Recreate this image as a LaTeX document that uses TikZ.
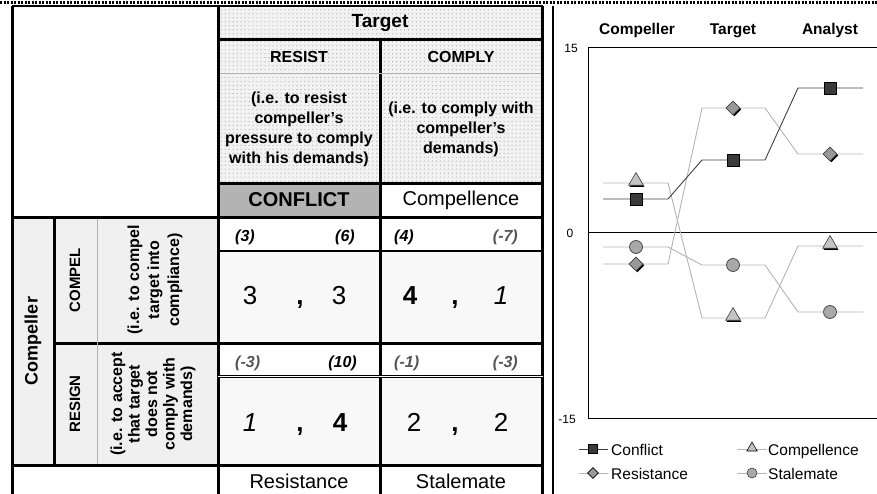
\documentclass[tikz,border=0pt]{standalone}
\usepackage{fontspec}
\setmainfont{Liberation Sans}
\usetikzlibrary{patterns,shapes.geometric,shadows}

\definecolor{hdrgray}{HTML}{F2F2F2}
\definecolor{dotgray}{HTML}{B4B4B4}
\definecolor{sidegray}{HTML}{F0F0F0}
\definecolor{cellgray}{HTML}{F8F8F8}
\definecolor{conflictfill}{HTML}{B3B3B3}
\definecolor{negtext}{HTML}{555555}
\definecolor{darkline}{HTML}{404040}
\definecolor{lightline}{HTML}{B4B4B4}
\definecolor{rulegray}{HTML}{B0B0B0}
\definecolor{sqfill}{HTML}{3A3A3A}
\definecolor{dmfill}{HTML}{999999}
\definecolor{trfill}{HTML}{C4C4C4}
\definecolor{cifill}{HTML}{A8A8A8}

\newcommand{\fsz}[2]{\fontsize{#1bp}{#2bp}\selectfont}

% fine dot texture for the header cells
\pgfdeclarepatternformonly{cellDots}{\pgfqpoint{-1pt}{-1pt}}{\pgfqpoint{5pt}{5pt}}{\pgfqpoint{4pt}{4pt}}{%
  \pgfpathcircle{\pgfqpoint{2pt}{2pt}}{0.65pt}\pgfusepath{fill}}

\begin{document}
\begin{tikzpicture}[x=1bp,y=-1bp,
  thickrule/.style={line width=3bp},
  midrule/.style={line width=2bp},
  thinrule/.style={line width=0.8bp, rulegray},
  dotcell/.style={preaction={fill=hdrgray}, pattern=cellDots, pattern color=dotgray},
  hdr/.style={font=\bfseries\fsz{16}{18}, inner sep=0},
  desc/.style={font=\bfseries\fsz{16}{20}, align=center, inner sep=0},
  payoff/.style={font=\bfseries\itshape\fsz{16}{18}, inner sep=0},
  big/.style={font=\fsz{26}{28}, inner sep=0, anchor=base},
  outcome/.style={font=\fsz{20}{22}, inner sep=0},
  ctitle/.style={font=\bfseries\fsz{15.5}{17}, inner sep=0, anchor=base},
  ticklab/.style={font=\fsz{12}{13}, inner sep=0},
  legtext/.style={font=\fsz{15.5}{17}, inner sep=0, anchor=base west},
  sqmark/.style={rectangle, draw=black, fill=sqfill, minimum size=12bp, inner sep=0, line width=0.7bp},
  dmmark/.style={diamond, draw=darkline, fill=dmfill, minimum size=14bp, inner sep=0, line width=0.6bp,
    drop shadow={shadow xshift=1.4bp, shadow yshift=-1.4bp, fill=black, opacity=1}},
  trmark/.style={regular polygon, regular polygon sides=3, draw=darkline, fill=trfill, minimum size=17bp, inner sep=0, line width=0.6bp,
    drop shadow={shadow xshift=1bp, shadow yshift=-1.6bp, fill=black, opacity=1}},
  cimark/.style={circle, draw=darkline, fill=cifill, minimum size=13bp, inner sep=0, line width=0.7bp},
  lsq/.style={rectangle, draw=black, fill=sqfill, minimum size=9bp, inner sep=0, line width=0.6bp},
  ldm/.style={diamond, draw=black, fill=dmfill, minimum size=11bp, inner sep=0, line width=0.6bp},
  ltr/.style={regular polygon, regular polygon sides=3, draw=black, fill=trfill, minimum size=12bp, inner sep=0, line width=0.6bp},
  lci/.style={circle, draw=darkline, fill=cifill, minimum size=10bp, inner sep=0, line width=0.6bp},
  darkser/.style={darkline, line width=0.9bp},
  lightser/.style={lightline, line width=0.9bp}]
\useasboundingbox (0,0) rectangle (877,494);

% ---------- cell backgrounds ----------
\fill[dotcell] (218,6) rectangle (543,184);
\fill[conflictfill] (218,184) rectangle (380,217);
\fill[sidegray] (12,217) rectangle (218,465);
\fill[cellgray] (218,252) rectangle (543,343);
\fill[cellgray] (218,378) rectangle (543,465);

% ---------- table rules ----------
\draw[midrule] (12,6.5) -- (543,6.5);
\draw[thickrule] (12,6) -- (12,494);
\draw[thickrule] (218.5,6) -- (218.5,494);
\draw[thickrule] (542,6) -- (542,494);
\draw[thickrule] (380,40) -- (380,494);
\draw[thickrule] (218,40) -- (543,40);
\draw[thinrule] (220,73) -- (541,73);
\draw[thickrule] (218,184) -- (543,184);
\draw[thickrule] (11,217.5) -- (543,217.5);
\draw[midrule] (218,251.5) -- (543,251.5);
\draw[thickrule] (54,343.5) -- (543,343.5);
\draw[thickrule] (54,217) -- (54,465);
\draw[thinrule] (97,219) -- (97,464);
\draw[line width=0.9bp, double=white, double distance=1.6bp] (218,376.5) -- (543,376.5);
\draw[thickrule] (11,465.5) -- (543,465.5);

% ---------- column headings ----------
\node[font=\bfseries\fsz{19}{21}, inner sep=0] (target) at (380,23) {Target};
\node[hdr] (resist) at (299,57) {RESIST};
\node[hdr] (comply) at (461,57) {COMPLY};
\node[desc] (resistdesc) at (299,129) {(i.e. to resist\\compeller's\\pressure to comply\\with his demands)};
\node[desc] (complydesc) at (461,129) {(i.e. to comply with\\compeller's\\demands)};
\node[font=\bfseries\fsz{20}{22}, inner sep=0] (conflict) at (299,200) {CONFLICT};
\node[outcome] (compellence) at (461,200) {Compellence};

% ---------- row headings ----------
\node[rotate=90, font=\bfseries\fsz{18}{20}, inner sep=0] (compeller) at (33,341) {Compeller};
\node[rotate=90, hdr, font=\bfseries\fsz{15}{17}] (compel) at (75,280) {COMPEL};
\node[rotate=90, hdr, font=\bfseries\fsz{15}{17}] (resign) at (75,404) {RESIGN};
\node[rotate=90, desc] (compeldesc) at (155,280) {(i.e. to compel\\target into\\compliance)};
\node[rotate=90, desc, font=\bfseries\fsz{16}{17.5}] (resigndesc) at (153,404) {(i.e. to accept\\that target\\does not\\comply with\\demands)};

% ---------- payoffs in brackets ----------
\node[payoff, anchor=west] (p11) at (235,237) {(3)};
\node[payoff, anchor=east] (p12) at (355,237) {(6)};
\node[payoff, anchor=west] (p13) at (394,237) {(4)};
\node[payoff, anchor=east, negtext] (p14) at (518,237) {(-7)};
\node[payoff, anchor=west, negtext] (p21) at (235,363) {(-3)};
\node[payoff, anchor=east] (p22) at (357,363) {(10)};
\node[payoff, anchor=west, negtext] (p23) at (394,363) {(-1)};
\node[payoff, anchor=east, negtext] (p24) at (518,363) {(-3)};

% ---------- ordinal payoffs ----------
\node[big] (r11) at (250,305) {3};
\node[big, font=\bfseries\fsz{26}{28}] (c11) at (300,305) {,};
\node[big] (r12) at (339,305) {3};
\node[big, font=\bfseries\fsz{26}{28}] (r13) at (410,305) {4};
\node[big, font=\bfseries\fsz{26}{28}] (c12) at (455,305) {,};
\node[big, font=\itshape\fsz{26}{28}] (r14) at (501,305) {1};
\node[big, font=\itshape\fsz{26}{28}] (r21) at (250,431) {1};
\node[big, font=\bfseries\fsz{26}{28}] (c21) at (300,431) {,};
\node[big, font=\bfseries\fsz{26}{28}] (r22) at (340,431) {4};
\node[big] (r23) at (414,431) {2};
\node[big, font=\bfseries\fsz{26}{28}] (c22) at (455,431) {,};
\node[big] (r24) at (501,431) {2};

% ---------- outcome names ----------
\node[outcome] (resistance) at (299,481) {Resistance};
\node[outcome] (stalemate) at (461,481) {Stalemate};

% ---------- top edge strip ----------
\draw[line width=3bp, dash pattern=on 2.2bp off 1.3bp] (0,3) -- (877,3);

% ---------- chart ----------
\draw[midrule] (553,6) -- (553,494);
\node[ctitle] (tcomp) at (637,35) {Compeller};
\node[ctitle] (ttarg) at (733,35) {Target};
\node[ctitle] (tanal) at (830,35) {Analyst};

\draw[line width=1bp] (877,48) -- (588,48) -- (588,418) -- (877,418);
\draw[line width=1bp] (588,233) -- (877,233);
\node[ticklab] (y15) at (571,48) {15};
\node[ticklab] (y0) at (570,233) {0};
\node[ticklab] (ym15) at (567,419) {-15};

% series lines
\draw[lightser] (603,264) -- (668,264) -- (702,108) -- (765,108) -- (798,154) -- (863,154);
\draw[lightser] (603,183) -- (668,183) -- (702,318) -- (765,318) -- (798,246) -- (863,246);
\draw[lightser] (603,247) -- (668,247) -- (702,265) -- (765,265) -- (798,312) -- (863,312);
\draw[darkser] (603,199) -- (668,199) -- (702,160) -- (765,160) -- (798,88) -- (863,88);

% series markers
\node[sqmark] (cf1) at (636,199) {};
\node[sqmark] (cf2) at (733,160) {};
\node[sqmark] (cf3) at (830,88) {};
\node[dmmark] (rs1) at (636,264) {};
\node[dmmark] (rs2) at (733,108) {};
\node[dmmark] (rs3) at (830,154) {};
\node[trmark] (cp1) at (636,181) {};
\node[trmark] (cp2) at (733,316) {};
\node[trmark] (cp3) at (830,244) {};
\node[cimark] (st1) at (636,247) {};
\node[cimark] (st2) at (733,265) {};
\node[cimark] (st3) at (830,312) {};

% legend
\draw[darkser] (579,449) -- (608,449);
\node[lsq] (lcf) at (593,449) {};
\node[legtext] (lcft) at (611,455) {Conflict};
\draw[lightser] (737,449) -- (767,449);
\node[ltr] (lcp) at (752,448) {};
\node[legtext] (lcpt) at (768,455) {Compellence};
\draw[lightser] (579,473) -- (608,473);
\node[ldm] (lrs) at (593,473) {};
\node[legtext] (lrst) at (611,479) {Resistance};
\draw[lightser] (737,473) -- (767,473);
\node[lci] (lst) at (752,473) {};
\node[legtext] (lstt) at (768,479) {Stalemate};
\end{tikzpicture}
\end{document}
